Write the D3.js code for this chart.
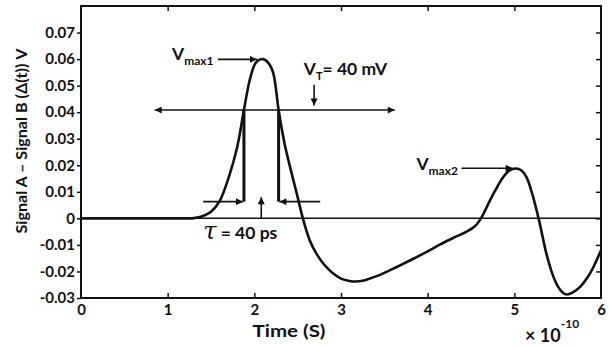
<!DOCTYPE html>
<html>
<head>
<meta charset="utf-8">
<script src="https://cdn.jsdelivr.net/npm/d3@7"></script>
<style>
  body { margin: 0; background: #fff; }
  svg { display: block; }
  text { font-family: Lato, "Open Sans", sans-serif; font-weight: bold; fill: #111; }
</style>
</head>
<body>
<svg id="chart" width="611" height="347"></svg>
<script>
// time in units of 1e-10 s, signal difference in V
var times = [0, 1.0, 1.25, 1.30, 1.40, 1.50, 1.60, 1.70, 1.80, 1.88, 1.95, 2.02, 2.10, 2.17, 2.22, 2.28,
    2.35, 2.43, 2.49, 2.56, 2.64, 2.72, 2.80, 2.90, 3.00, 3.10, 3.17, 3.25, 3.33, 3.45, 3.56, 3.70,
    3.83, 4.00, 4.14, 4.30, 4.45, 4.55, 4.62, 4.70, 4.78, 4.86, 4.94, 5.02, 5.08, 5.14, 5.20, 5.28,
    5.37, 5.44, 5.50, 5.56, 5.61, 5.67, 5.76, 5.84, 5.91, 6.00];
var signal = [0, 0, 0, 0.0001, 0.0008, 0.0025, 0.0065, 0.0150, 0.0265, 0.0408, 0.0525, 0.0588, 0.0600, 0.0582, 0.0545, 0.0408,
    0.0280, 0.0170, 0.0093, 0.0000, -0.0083, -0.0135, -0.0172, -0.0205, -0.0227, -0.0236, -0.0238, -0.0235, -0.0227, -0.0213, -0.0196, -0.0174,
    -0.0153, -0.0124, -0.0099, -0.0073, -0.0050, -0.0028, 0.0003, 0.0055, 0.0105, 0.0150, 0.0180, 0.0188, 0.0181, 0.0155, 0.0100, 0.0000,
    -0.0133, -0.0210, -0.0255, -0.0280, -0.0287, -0.0280, -0.0258, -0.0225, -0.0185, -0.0120];

var xTicks = [0, 1, 2, 3, 4, 5, 6];
var yTicks = [-0.03, -0.02, -0.01, 0, 0.01, 0.02, 0.03, 0.04, 0.05, 0.06, 0.07];

// annotation anchors (data units)
var vt = 0.0408;          // threshold arrow level
var tauT = [1.88, 2.28];  // threshold crossings
var tauLow = 0.0063;

var width = 611, height = 347;
var margin = {top: 6, right: 10, bottom: 49, left: 81};

var svg = d3.select("#chart");

var x = d3.scaleLinear().domain([0, 6]).range([margin.left, width - margin.right]);
var y = d3.scaleLinear().domain([-0.03, 0.08]).range([height - margin.bottom, margin.top]);

// arrowhead
svg.append("defs").append("marker")
    .attr("id", "arr")
    .attr("viewBox", "0 0 10 10")
    .attr("refX", 10).attr("refY", 5)
    .attr("markerWidth", 9).attr("markerHeight", 7)
    .attr("markerUnits", "userSpaceOnUse")
    .attr("orient", "auto-start-reverse")
    .append("path").attr("d", "M0,0L10,5L0,10z").attr("fill", "#111");

// axes
var fmt = function(d) { return d === 0 ? "0" : d.toFixed(2); };

var gl = svg.append("g")
    .attr("transform", "translate(" + margin.left + ",0)")
    .call(d3.axisLeft(y).tickValues(yTicks).tickFormat(fmt).tickSize(4).tickPadding(2));
var gb = svg.append("g")
    .attr("transform", "translate(0," + (height - margin.bottom) + ")")
    .call(d3.axisBottom(x).tickValues(xTicks).tickFormat(d3.format("d")).tickSize(-5).tickPadding(6));
var gt = svg.append("g")
    .attr("transform", "translate(0," + margin.top + ")")
    .call(d3.axisTop(x).tickValues(xTicks.slice(1, -1)).tickFormat("").tickSize(-5));
var gr = svg.append("g")
    .attr("transform", "translate(" + (width - margin.right) + ",0)")
    .call(d3.axisRight(y).tickValues(yTicks.slice(1)).tickFormat("").tickSize(-5));

[gl, gb, gt, gr].forEach(function(g) {
    g.select(".domain").remove();
    g.selectAll(".tick line").attr("stroke", "#111").attr("stroke-width", 1.5);
    g.selectAll("text").attr("font-size", 15).attr("fill", "#111")
        .attr("font-family", "Lato, sans-serif").attr("font-weight", "bold");
});
gb.selectAll(".tick").filter(function(d) { return d === 0 || d === 6; }).select("line").remove();

svg.append("rect")
    .attr("x", x(0)).attr("y", y(0.08))
    .attr("width", x(6) - x(0)).attr("height", y(-0.03) - y(0.08))
    .attr("fill", "none").attr("stroke", "#111").attr("stroke-width", 2);

// zero line
svg.append("line")
    .attr("x1", x(0)).attr("x2", x(6)).attr("y1", y(0)).attr("y2", y(0))
    .attr("stroke", "#111").attr("stroke-width", 1.5);

// curve
var pts = times.map(function(t, i) { return [t, signal[i]]; });
var line = d3.line()
    .x(function(d) { return x(d[0]); })
    .y(function(d) { return y(d[1]); })
    .curve(d3.curveCatmullRom.alpha(0.5));
svg.append("path").datum(pts)
    .attr("d", line)
    .attr("fill", "none").attr("stroke", "#111").attr("stroke-width", 2.6);

// annotation arrows
function arrow(t1, v1, t2, v2, both) {
    var l = svg.append("line")
        .attr("x1", x(t1)).attr("y1", y(v1)).attr("x2", x(t2)).attr("y2", y(v2))
        .attr("stroke", "#111").attr("stroke-width", 1.6)
        .attr("marker-end", "url(#arr)");
    if (both) l.attr("marker-start", "url(#arr)");
}
arrow(0.85, vt, 3.62, vt, true);       // threshold line
arrow(2.69, 0.0503, 2.69, 0.0425);     // V_T pointer
arrow(1.58, 0.0599, 2.03, 0.0599);     // Vmax1
arrow(4.39, 0.0189, 4.98, 0.0189);     // Vmax2
arrow(1.41, tauLow, 1.87, tauLow);     // tau left
arrow(2.76, tauLow, 2.29, tauLow);     // tau right
arrow(2.08, 0, 2.08, 0.0080);          // tau up

tauT.forEach(function(t) {
    svg.append("line")
        .attr("x1", x(t)).attr("x2", x(t)).attr("y1", y(vt)).attr("y2", y(tauLow))
        .attr("stroke", "#111").attr("stroke-width", 3);
});

// labels
function vlabel(t, v, sub) {
    var tx = svg.append("text").attr("x", x(t)).attr("y", y(v)).attr("font-size", 17.5);
    tx.append("tspan").text("V");
    tx.append("tspan").attr("font-size", 12).attr("dy", 5).text(sub);
    return tx;
}
vlabel(1.05, 0.0597, "max1");
vlabel(3.87, 0.0184, "max2");

var vtText = svg.append("text").attr("x", x(2.57)).attr("y", y(0.054)).attr("font-size", 17.5);
vtText.append("tspan").text("V");
vtText.append("tspan").attr("font-size", 11).attr("dy", 5).text("T");
vtText.append("tspan").attr("dy", -5).text("= 40 mV");

var tauText = svg.append("text").attr("x", x(1.41)).attr("y", y(-0.0076)).attr("font-size", 17.5);
tauText.append("tspan").attr("font-family", "'DejaVu Serif', serif").attr("font-style", "italic")
    .attr("font-weight", "normal").attr("font-size", 24).text("τ");
tauText.append("tspan").text(" = 40 ps");

svg.append("text")
    .attr("x", 289).attr("y", 337)
    .attr("text-anchor", "middle").attr("font-size", 17.5)
    .attr("textLength", 73).attr("lengthAdjust", "spacingAndGlyphs")
    .text("Time (S)");

var mult = svg.append("text").attr("x", 525).attr("y", 342).attr("font-size", 18);
mult.append("tspan").text("× 10");
mult.append("tspan").attr("font-size", 12).attr("dy", -14).text("-10");

svg.append("text")
    .attr("transform", "translate(27," + 141 + ") rotate(-90)")
    .attr("text-anchor", "middle").attr("font-size", 16)
    .attr("textLength", 185).attr("lengthAdjust", "spacingAndGlyphs")
    .text("Signal A – Signal B (Δ(t)) V");
</script>
</body>
</html>
